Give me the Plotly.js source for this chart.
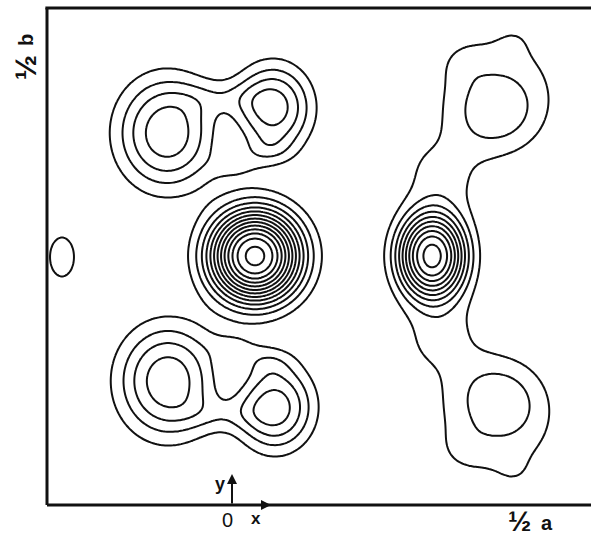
<!DOCTYPE html>
<html>
<head>
<meta charset="utf-8">
<script src="https://cdn.plot.ly/plotly-3.0.1.min.js"></script>
<style>html,body{margin:0;padding:0;background:#fff;}#chart{width:591px;height:537px;}</style>
</head>
<body>
<div id="chart"></div>
<script>
// Density peaks (positions in map units, heights in contour steps)
const peakName   = ['C','P','Ucore','Lcore','W','W2','T','T2','K','K2','R1','R2','a','b','m','n','o','a2','b2','m2','n2','o2','E'];
const peakX      = [255, 432, 498, 501, 497, 497, 516, 516, 462, 462, 442, 442, 167, 273, 222, 235, 268, 168, 275, 224, 235, 268, 62];
const peakY      = [256, 256, 108, 403,  97, 415,  38, 474,  62, 450, 175, 337, 133, 108,  98, 165, 150, 381, 407, 414, 347, 362, 257];
const peakHeight = [13.3,10.3,1.0, 1.0, 1.5, 1.5, 0.45,0.45,0.5, 0.5, 1.4, 1.4, 4.6, 4.4, 1.1, 0.9, 1.0, 4.6, 4.4, 1.1, 0.9, 1.0, 1.3];
const peakRadX   = [45, 33.5, 37, 37, 62, 62, 20, 20, 22, 22, 42, 42, 48, 37, 40, 25, 25, 48, 37, 40, 25, 25, 23.4];
const peakRadY   = [45, 42,   37, 37, 64, 64, 18, 18, 20, 20, 45, 45, 54, 42, 18, 15, 15, 54, 42, 18, 15, 15, 38];
const peakShape  = [2.4,2.4,  3,  3,  4,  4,  2,  2,  2,  2,  2,  2, 2.4,2.4, 2,  2,  2, 2.4,2.4, 2,  2,  2,  2];

const levelStart = 1, levelEnd = 13, levelStep = 1;
const mapX = [47, 591], mapY = [8, 505];

const xs = [], ys = [];
for (let x = mapX[0]; x <= mapX[1]; x += 2) xs.push(x);
for (let y = mapY[0]; y <= mapY[1]; y += 2) ys.push(y);
const z = ys.map(y => xs.map(x => {
  let s = 0;
  for (let k = 0; k < peakX.length; k++) {
    const dx = (x - peakX[k]) / peakRadX[k], dy = (y - peakY[k]) / peakRadY[k];
    const q = dx*dx + dy*dy;
    s += peakHeight[k] * Math.exp(-Math.pow(q, peakShape[k] / 2));
  }
  return s;
}));

const trace = {
  type: 'contour', x: xs, y: ys, z: z,
  autocontour: false,
  contours: {start: levelStart, end: levelEnd, size: levelStep, coloring: 'none'},
  line: {color: '#111', width: 2, smoothing: 1},
  showscale: false, hoverinfo: 'skip'
};

// convert map units to paper fractions for labels outside the plotting area
const px = v => (v - mapX[0]) / (mapX[1] - mapX[0]);
const py = v => (mapY[1] - v) / (mapY[1] - mapY[0]);

const font = {family: 'Liberation Sans, Arial, sans-serif', color: '#111'};
function label(x, y, text, size, angle) {
  return {x: px(x), y: py(y), xref: 'paper', yref: 'paper', text: text, showarrow: false,
          xanchor: 'center', yanchor: 'middle', textangle: angle || 0, borderpad: 0,
          font: Object.assign({size: size}, font)};
}
const layout = {
  width: 591, height: 537,
  margin: {l: 47, r: 0, t: 8, b: 32, pad: 0},
  paper_bgcolor: '#fff', plot_bgcolor: '#fff',
  showlegend: false,
  xaxis: {range: mapX, visible: false, fixedrange: true},
  yaxis: {range: [mapY[1], mapY[0]], visible: false, fixedrange: true},
  shapes: [
    {type: 'line', xref: 'paper', yref: 'paper', x0: -0.003, x1: 1, y0: 1, y1: 1, line: {color: '#111', width: 3}},
    {type: 'line', xref: 'paper', yref: 'paper', x0: 0, x1: 0, y0: 0, y1: 1, line: {color: '#111', width: 3}},
    {type: 'line', xref: 'paper', yref: 'paper', x0: 0, x1: 1, y0: 0, y1: 0, line: {color: '#111', width: 3}}
  ],
  annotations: [
    {x: 232, y: 474, xref: 'x', yref: 'y', text: '', showarrow: true, ax: 0, ay: 31, arrowhead: 2, arrowsize: 1, arrowwidth: 2, arrowcolor: '#111'},
    {x: 271, y: 505, xref: 'x', yref: 'y', text: '', showarrow: true, ax: -39, ay: 0, arrowhead: 2, arrowsize: 1, arrowwidth: 2, arrowcolor: '#111'},
    label(220, 484, '<b>y</b>', 18),
    label(227, 520, '0', 20),
    label(256, 518, '<b>x</b>', 17),
    label(519, 521, '<b>½</b>', 28),
    label(547, 523, '<b>a</b>', 20),
    label(25, 68, '<b>½</b>', 30, -90),
    label(26, 40, '<b>b</b>', 20, -90)
  ]
};

Plotly.newPlot('chart', [trace], layout, {staticPlot: true, displayModeBar: false});
</script>
</body>
</html>
